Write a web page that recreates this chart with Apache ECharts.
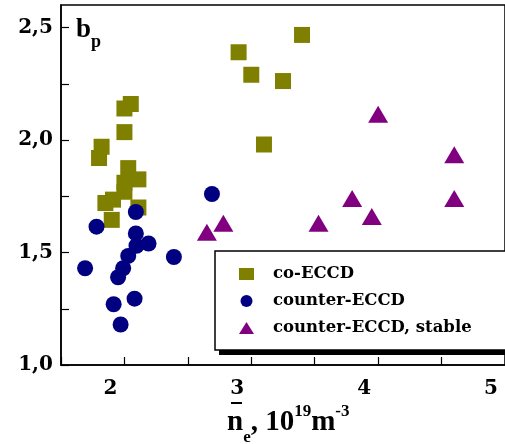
<!DOCTYPE html>
<html><head><meta charset="utf-8">
<script src="https://cdn.jsdelivr.net/npm/echarts@6/dist/echarts.min.js"></script>
<style>html,body{margin:0;padding:0;background:#fff}#c{width:505px;height:444px}</style>
</head><body><div id="c"></div>
<script>
var seriesNames = ['co-ECCD', 'counter-ECCD', 'counter-ECCD, stable'];
var coECCD = [
  [1.80, 1.92], [1.82, 1.97], [2.00, 2.035], [2.00, 2.14], [2.05, 2.16],
  [2.03, 1.875], [2.11, 1.825], [2.00, 1.81], [2.00, 1.77], [1.91, 1.735],
  [1.85, 1.72], [2.11, 1.70], [1.90, 1.645], [2.90, 2.39], [3.00, 2.29],
  [3.25, 2.262], [3.40, 2.467], [3.10, 1.98]
];
var counterECCD = [
  [1.69, 1.43], [1.78, 1.615], [1.915, 1.27], [1.95, 1.39], [1.97, 1.18],
  [1.99, 1.43], [2.03, 1.485], [2.08, 1.295], [2.095, 1.53], [2.09, 1.585],
  [2.09, 1.68], [2.19, 1.54], [2.39, 1.48], [2.69, 1.76]
];
var counterStable = [
  [2.65, 1.59], [2.78, 1.63], [3.53, 1.63], [3.795, 1.74], [3.95, 1.66],
  [4.00, 2.115], [4.60, 1.935], [4.60, 1.74]
];
var xTickLabels = ['2', '3', '4', '5'];
var yTickLabels = ['1,0', '1,5', '2,0', '2,5'];

var serifB = '"Liberation Serif", "Times New Roman", serif';
var chart = echarts.init(document.getElementById('c'), null, {renderer: 'canvas'});
var axisCommon = {
  axisLine: {show: true, onZero: false, lineStyle: {color: '#000', width: 1.5}},
  axisTick: {show: true, inside: true, length: 8, lineStyle: {color: '#000', width: 1.2}},
  splitLine: {show: false}
};
chart.setOption({
  animation: false,
  backgroundColor: '#fff',
  grid: {left: 61, right: -5, top: 5, bottom: 79, show: true, borderColor: '#000', borderWidth: 1.5, backgroundColor: 'transparent'},
  xAxis: Object.assign({
    type: 'value', min: 1.5, max: 5.0, interval: 0.5,
    axisLabel: {
      color: '#000', fontFamily: '"DejaVu Serif", serif', fontWeight: 'bold', fontSize: 20,
      margin: 14, padding: [0, 28, 0, 0], showMinLabel: true, showMaxLabel: true,
      formatter: function (v) {
        var s = String(Math.round(v * 100) / 100);
        return xTickLabels.indexOf(s) >= 0 ? s : '';
      }
    }
  }, axisCommon),
  yAxis: Object.assign({
    type: 'value', min: 1.0, max: 2.6, interval: 0.25,
    axisLabel: {
      color: '#000', fontFamily: '"DejaVu Serif", serif', fontWeight: 'bold', fontSize: 20,
      margin: 8, showMaxLabel: false,
      formatter: function (v) {
        var s = (Math.round(v * 100) / 100).toFixed(2);
        if (s.slice(-1) !== '0') return '';
        var t = s.slice(0, 3).replace('.', ',');
        return yTickLabels.indexOf(t) >= 0 ? t : '';
      }
    }
  }, axisCommon),
  legend: {
    orient: 'vertical', left: 215, top: 251, z: 10,
    padding: [13, 44, 12, 24], itemGap: 7, itemWidth: 15, itemHeight: 12,
    backgroundColor: '#fff', borderColor: '#000', borderWidth: 1.5, borderRadius: 0,
    selectedMode: false,
    textStyle: {color: '#000', fontFamily: '"DejaVu Serif", serif', fontWeight: 'bold', fontSize: 16.5, lineHeight: 20, padding: [0, 0, 0, 14]},
    data: [
      {name: seriesNames[0], icon: 'rect'},
      {name: seriesNames[1], icon: 'circle'},
      {name: seriesNames[2], icon: 'triangle'}
    ]
  },
  graphic: [
    {type: 'rect', z: 5, shape: {x: 219, y: 256, width: 300, height: 99}, style: {fill: '#000'}},
    {type: 'text', left: 76, top: 17, style: {
      rich: {b: {fontFamily: serifB, fontWeight: 'bold', fontSize: 27, fill: '#000'},
             p: {fontFamily: serifB, fontWeight: 'bold', fontSize: 18, fill: '#000', padding: [24, 0, 0, 0]}},
      text: '{b|b}{p|p}'}},
    {type: 'text', left: 227, top: 403, style: {
      rich: {
        t: {fontFamily: serifB, fontWeight: 'bold', fontSize: 29, fill: '#000', lineHeight: 34, verticalAlign: 'bottom'},
        sub: {fontFamily: serifB, fontWeight: 'bold', fontSize: 17, fill: '#000', lineHeight: 34, verticalAlign: 'bottom', padding: [0, 0, -9, 0]},
        sup: {fontFamily: serifB, fontWeight: 'bold', fontSize: 17, fill: '#000', lineHeight: 34, verticalAlign: 'top'}
      },
      text: '{t|n}{sub|e}{t|, 10}{sup|19}{t|m}{sup|-3}'}},
    {type: 'rect', shape: {x: 231, y: 402, width: 11, height: 2}, style: {fill: '#000'}}
  ],
  series: [
    {name: seriesNames[0], type: 'scatter', data: coECCD, symbol: 'rect', symbolSize: 16,
     itemStyle: {color: '#808000', opacity: 1}},
    {name: seriesNames[1], type: 'scatter', data: counterECCD, symbol: 'circle', symbolSize: 16,
     itemStyle: {color: '#000080', opacity: 1}},
    {name: seriesNames[2], type: 'scatter', data: counterStable, symbol: 'triangle', symbolSize: [20, 17],
     itemStyle: {color: '#800080', opacity: 1}}
  ]
});
</script></body></html>
